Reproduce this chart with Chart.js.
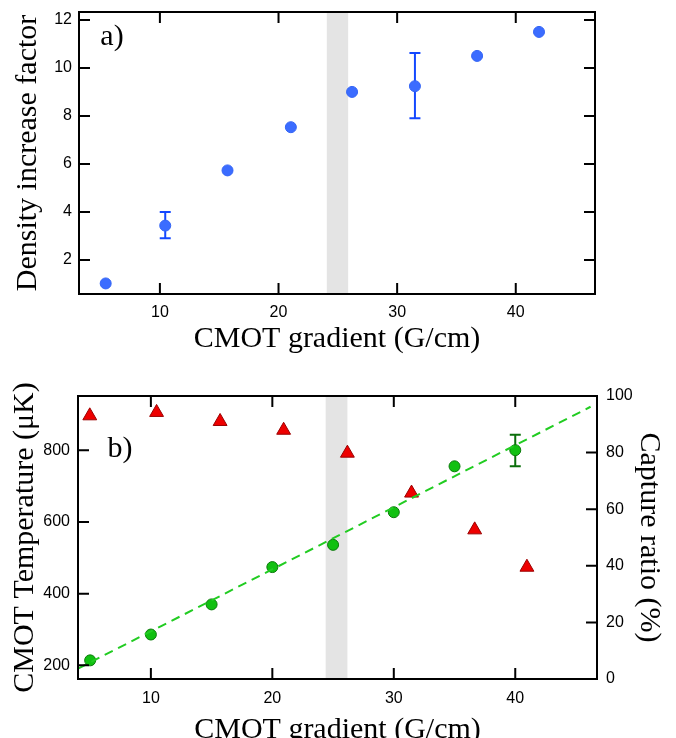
<!DOCTYPE html>
<html>
<head>
<meta charset="utf-8">
<script src="https://cdn.jsdelivr.net/npm/chart.js@4.4.0/dist/chart.umd.min.js"></script>
<style>
  html, body { margin:0; padding:0; background:#fff; overflow:hidden; width:676px; height:738px; }
  #wrap { position:relative; width:676px; height:738px; overflow:hidden; }
  #c1 { position:absolute; left:0; top:0; }
  #c2 { position:absolute; left:0; top:360px; }
</style>
</head>
<body>
<div id="wrap">
  <canvas id="c1" width="676" height="360"></canvas>
  <canvas id="c2" width="676" height="400"></canvas>
</div>
<script>
// ---------- Panel a) data ----------
const gradientA = [5.43, 10.45, 15.7, 21.04, 26.2, 31.5, 36.74, 41.96];
const densityFactor = [1.02, 3.43, 5.73, 7.53, 9.0, 9.24, 10.5, 11.5];
const densityErrLow = [null, 2.9, null, null, null, 7.9, null, null];
const densityErrHigh = [null, 4.0, null, null, null, 10.62, null, null];
const bandA = [24.07, 25.87];
const ticksXA = [10, 20, 30, 40];
const ticksYA = [2, 4, 6, 8, 10, 12];

// ---------- Panel b) data ----------
const gradientTemp = [5, 10, 15, 20, 25, 30, 35, 40];
const temperature = [214, 286, 370, 474, 536, 627, 755, 800];
const temperatureErrLow = [null, null, null, null, null, null, null, 755];
const temperatureErrHigh = [null, null, null, null, null, null, null, 843];
const fitGradient = [4.0, 46.2];
const fitTemperature = [191, 921];
const gradientRatio = [4.97, 10.47, 15.7, 20.93, 26.18, 31.46, 36.66, 40.96];
const captureRatio = [93.0, 94.2, 91.0, 87.9, 79.8, 65.7, 52.7, 39.5];
const bandB = [24.39, 26.18];
const ticksXB = [10, 20, 30, 40];
const ticksTempB = [200, 400, 600, 800];
const ticksRatioB = [0, 20, 40, 60, 80, 100];

const pts = (xs, ys) => xs.map((x, i) => ({x: x, y: ys[i]}));
const SERIF = "'Liberation Serif', 'Times New Roman', serif";
const SANS = "'Liberation Sans', Arial, sans-serif";

const bandPlugin = {
  id: 'band',
  beforeDatasetsDraw(chart, args, opts) {
    const {ctx, chartArea} = chart;
    const xs = chart.scales.x;
    const x0 = xs.getPixelForValue(opts.range[0]);
    const x1 = xs.getPixelForValue(opts.range[1]);
    ctx.save();
    ctx.fillStyle = '#e4e4e4';
    ctx.fillRect(x0, chartArea.top, x1 - x0, chartArea.bottom - chartArea.top);
    ctx.restore();
  }
};

const errorBarPlugin = {
  id: 'errbars',
  beforeDatasetsDraw(chart) {
    const {ctx} = chart;
    chart.data.datasets.forEach((ds) => {
      if (!ds.errLow) return;
      const xs = chart.scales[ds.xAxisID || 'x'];
      const ys = chart.scales[ds.yAxisID || 'y'];
      ctx.save();
      ctx.strokeStyle = ds.errColor;
      ctx.lineWidth = 2;
      ds.data.forEach((p, i) => {
        if (ds.errLow[i] == null) return;
        const px = xs.getPixelForValue(p.x);
        const yl = ys.getPixelForValue(ds.errLow[i]);
        const yh = ys.getPixelForValue(ds.errHigh[i]);
        ctx.beginPath();
        ctx.moveTo(px, yl); ctx.lineTo(px, yh);
        ctx.moveTo(px - 5.5, yl); ctx.lineTo(px + 5.5, yl);
        ctx.moveTo(px - 5.5, yh); ctx.lineTo(px + 5.5, yh);
        ctx.stroke();
      });
      ctx.restore();
    });
  }
};

const framePlugin = {
  id: 'frame',
  afterDraw(chart, args, opts) {
    const {ctx, chartArea: a} = chart;
    const TL = 11;
    ctx.save();
    ctx.strokeStyle = '#000';
    ctx.lineWidth = 2;
    ctx.beginPath();
    const xs = chart.scales.x;
    xs.ticks.forEach(t => {
      const px = xs.getPixelForValue(t.value);
      ctx.moveTo(px, a.bottom); ctx.lineTo(px, a.bottom - TL);
      ctx.moveTo(px, a.top); ctx.lineTo(px, a.top + TL);
    });
    const yl = chart.scales.y;
    yl.ticks.forEach(t => {
      const py = yl.getPixelForValue(t.value);
      ctx.moveTo(a.left, py); ctx.lineTo(a.left + TL, py);
      if (!chart.scales.y2) { ctx.moveTo(a.right, py); ctx.lineTo(a.right - TL, py); }
    });
    if (chart.scales.y2) {
      const yr = chart.scales.y2;
      yr.ticks.forEach(t => {
        const py = yr.getPixelForValue(t.value);
        ctx.moveTo(a.right, py); ctx.lineTo(a.right - TL, py);
      });
    }
    ctx.stroke();
    ctx.strokeRect(a.left, a.top, a.right - a.left, a.bottom - a.top);
    ctx.fillStyle = '#000';
    ctx.font = '30px ' + SERIF;
    ctx.textAlign = 'center';
    ctx.textBaseline = 'middle';
    ctx.fillText(opts.label, a.left + opts.dx, a.top + opts.dy);
    ctx.restore();
  }
};

const fixTicks = (vals) => (s) => { s.ticks = vals.map(v => ({value: v})); };
const fitV = (w) => (s) => { s.width = w; s.paddingTop = 0; s.paddingBottom = 0; };
const fitH = (h) => (s) => { s.height = h; s.paddingLeft = 0; s.paddingRight = 0; };
const noGrid = {display: false, drawTicks: false, tickLength: 0};

// ---------- Chart a) ----------
new Chart(document.getElementById('c1'), {
  type: 'scatter',
  data: {
    datasets: [{
      label: 'Density increase factor',
      data: pts(gradientA, densityFactor),
      errLow: densityErrLow, errHigh: densityErrHigh, errColor: '#1448ff',
      pointRadius: 5.5, pointBackgroundColor: '#3b6cff', pointBorderColor: '#3364f5', pointBorderWidth: 1,
      showLine: false
    }]
  },
  plugins: [bandPlugin, errorBarPlugin, framePlugin],
  options: {
    responsive: false, animation: false, devicePixelRatio: 1,
    layout: {padding: {left: 0, right: 81, top: 12, bottom: 0}},
    plugins: {
      legend: {display: false}, tooltip: {enabled: false},
      band: {range: bandA},
      frame: {label: 'a)', dx: 33, dy: 25}
    },
    scales: {
      x: {
        type: 'linear', position: 'bottom', min: 3.18, max: 46.68,
        afterBuildTicks: fixTicks(ticksXA),
        afterFit: fitH(66),
        grid: noGrid, border: {display: false},
        ticks: {font: {family: SANS, size: 16}, color: '#000', padding: 9, maxRotation: 0},
        title: {display: true, text: 'CMOT gradient (G/cm)', color: '#000',
                font: {family: SERIF, size: 30, lineHeight: 1}, padding: {top: 0, bottom: 6}}
      },
      y: {
        type: 'linear', position: 'left', min: 0.58, max: 12.33,
        afterBuildTicks: fixTicks(ticksYA),
        afterFit: fitV(79),
        grid: noGrid, border: {display: false},
        ticks: {font: {family: SANS, size: 16}, color: '#000', padding: 7},
        title: {display: true, text: 'Density increase factor', color: '#000',
                font: {family: SERIF, size: 30, lineHeight: 1}, padding: {top: 13, bottom: 0}}
      }
    }
  }
});

// ---------- Chart b) ----------
new Chart(document.getElementById('c2'), {
  type: 'scatter',
  data: {
    datasets: [{
      label: 'Linear fit',
      data: pts(fitGradient, fitTemperature),
      yAxisID: 'y', showLine: true, pointRadius: 0,
      borderColor: '#22cc22', borderWidth: 2, borderDash: [9, 6], fill: false
    }, {
      label: 'CMOT Temperature',
      data: pts(gradientTemp, temperature),
      yAxisID: 'y',
      errLow: temperatureErrLow, errHigh: temperatureErrHigh, errColor: '#0a6e0a',
      pointRadius: 5.5, pointBackgroundColor: '#11c011', pointBorderColor: '#0b7a0b', pointBorderWidth: 1,
      showLine: false
    }, {
      label: 'Capture ratio',
      data: pts(gradientRatio, captureRatio),
      yAxisID: 'y2', pointStyle: 'triangle',
      pointRadius: 8, pointBackgroundColor: '#ee0000', pointBorderColor: '#9a0000', pointBorderWidth: 1,
      showLine: false
    }]
  },
  plugins: [bandPlugin, errorBarPlugin, framePlugin],
  options: {
    responsive: false, animation: false, devicePixelRatio: 1,
    layout: {padding: {left: 0, right: 0, top: 36, bottom: 0}},
    plugins: {
      legend: {display: false}, tooltip: {enabled: false},
      band: {range: bandB},
      frame: {label: 'b)', dx: 42, dy: 53}
    },
    scales: {
      x: {
        type: 'linear', position: 'bottom', min: 4.0, max: 46.73,
        afterBuildTicks: fixTicks(ticksXB),
        afterFit: fitH(81),
        grid: noGrid, border: {display: false},
        ticks: {font: {family: SANS, size: 16}, color: '#000', padding: 10, maxRotation: 0},
        title: {display: true, text: 'CMOT gradient (G/cm)', color: '#000',
                font: {family: SERIF, size: 30, lineHeight: 1}, padding: {top: 0, bottom: 15}}
      },
      y: {
        type: 'linear', position: 'left', min: 162, max: 951,
        afterBuildTicks: fixTicks(ticksTempB),
        afterFit: fitV(78),
        grid: noGrid, border: {display: false},
        ticks: {font: {family: SANS, size: 16}, color: '#000', padding: 8},
        title: {display: true, text: 'CMOT Temperature (μK)', color: '#000',
                font: {family: SERIF, size: 30, lineHeight: 1}, padding: {top: 10, bottom: 0}}
      },
      y2: {
        type: 'linear', position: 'right', min: 0, max: 100,
        afterBuildTicks: fixTicks(ticksRatioB),
        afterFit: fitV(79),
        grid: noGrid, border: {display: false},
        ticks: {font: {family: SANS, size: 16}, color: '#000', padding: 9},
        title: {display: true, text: 'Capture ratio (%)', color: '#000',
                font: {family: SERIF, size: 30, lineHeight: 1}, padding: {top: 12, bottom: 0}}
      }
    }
  }
});
</script>
</body>
</html>
